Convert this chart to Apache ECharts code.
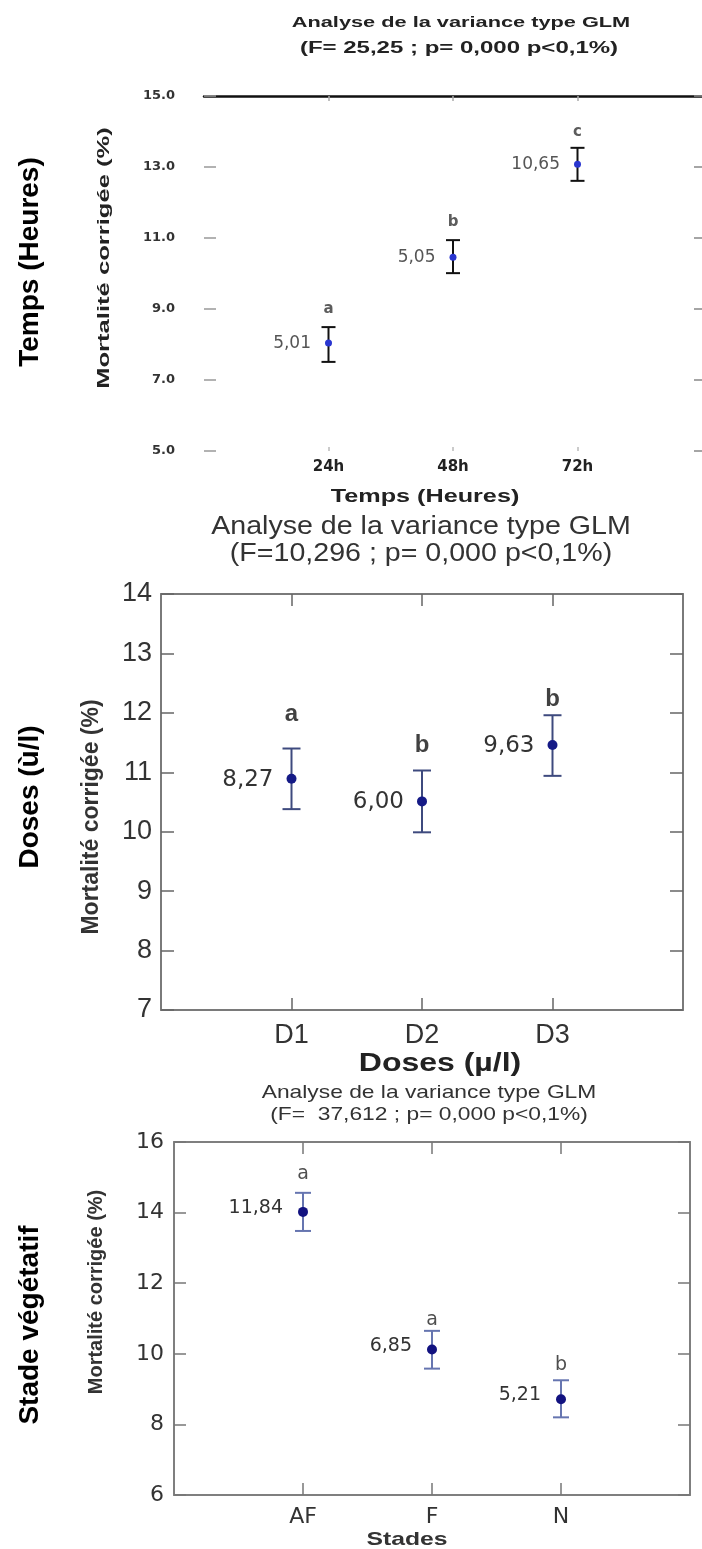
<!DOCTYPE html>
<html><head><meta charset="utf-8">
<script src="https://cdn.jsdelivr.net/npm/echarts@6/dist/echarts.min.js"></script>
<style>html,body{margin:0;padding:0;background:#fff}#c{width:702px;height:1549px}</style>
</head><body><div id="c"></div>
<script>
// ---------- Panel 1 : Temps (Heures) ----------
const cats1 = ['24h', '48h', '72h'];
const mean1 = [8.04, 10.46, 13.08];
const low1 = [7.51, 10.01, 12.61];
const high1 = [8.49, 10.94, 13.54];
const valLabels1 = ['5,01', '5,05', '10,65'];
const letters1 = ['a', 'b', 'c'];
const letterY1 = [9.0, 11.45, 13.99];
const yTicks1 = [5, 7, 9, 11, 13, 15];

// ---------- Panel 2 : Doses ----------
const cats2 = ['D1', 'D2', 'D3'];
const mean2 = [10.89, 10.51, 11.46];
const low2 = [10.38, 9.99, 10.94];
const high2 = [11.40, 11.03, 11.96];
const valLabels2 = ['8,27', '6,00', '9,63'];
const letters2 = ['a', 'b', 'b'];
const letterY2 = [11.97, 11.45, 12.23];

// ---------- Panel 3 : Stades ----------
const cats3 = ['AF', 'F', 'N'];
const mean3 = [14.02, 10.12, 8.71];
const low3 = [13.48, 9.58, 8.20];
const high3 = [14.56, 10.65, 9.25];
const valLabels3 = ['11,84', '6,85', '5,21'];
const letters3 = ['a', 'a', 'b'];
const letterY3 = [15.1, 10.95, 9.68];

const SANS = '"Liberation Sans", Arial, sans-serif';
const DJ = '"DejaVu Sans", sans-serif';

const panels = [
  {
    cats: cats1, mean: mean1, low: low1, high: high1, vl: valLabels1, let: letters1, letY: letterY1,
    grid: {left: 204, top: 96, width: 504, height: 355},
    y: {min: 5, max: 15, customValues: yTicks1, fmt: v => v.toFixed(1), font: {fontSize: 13, fontWeight: 'bold', fontFamily: DJ, color: '#333'}, margin: 29},
    xl: {fontSize: 15, fontWeight: 'bold', fontFamily: DJ, color: '#222', margin: 9},
    lines: {left: false, bottom: false, top: true, right: false, color: '#111', width: 2.5},
    ticks: {left: [12, '#999'], bottom: [4, '#bbb'], top: [5, '#aaa'], right: [8, '#888']},
    err: {color: '#111', lw: 2, cap: 14},
    pt: {color: '#2a36d0', size: 7},
    lab: {fontSize: 17, fontFamily: DJ, color: '#555', distance: 14, offset: [0, 0]},
    letf: {fontSize: 15, fontWeight: 'bold', fontFamily: DJ, color: '#333'}
  },
  {
    cats: cats2, mean: mean2, low: low2, high: high2, vl: valLabels2, let: letters2, letY: letterY2,
    grid: {left: 161, top: 594, width: 522, height: 416},
    y: {min: 7, max: 14, interval: 1, fmt: v => String(v), font: {fontSize: 27, fontFamily: SANS, color: '#333'}, margin: 9},
    xl: {fontSize: 27, fontFamily: SANS, color: '#333', margin: 12},
    lines: {left: true, bottom: true, top: true, right: true, color: '#7a7a7a', width: 2},
    ticks: {left: [13, '#666'], bottom: [12, '#666'], top: [12, '#666'], right: [13, '#666']},
    err: {color: '#3e4a7e', lw: 2, cap: 18},
    pt: {color: '#151a86', size: 10},
    lab: {fontSize: 23, fontFamily: DJ, color: '#333', distance: 13, offset: [0, 1]},
    letf: {fontSize: 24, fontWeight: 'bold', fontFamily: SANS, color: '#111'}
  },
  {
    cats: cats3, mean: mean3, low: low3, high: high3, vl: valLabels3, let: letters3, letY: letterY3,
    grid: {left: 174, top: 1142, width: 516, height: 353},
    y: {min: 6, max: 16, interval: 2, fmt: v => String(v), font: {fontSize: 22, fontFamily: DJ, color: '#333'}, margin: 10},
    xl: {fontSize: 22, fontFamily: DJ, color: '#333', margin: 11},
    lines: {left: true, bottom: true, top: true, right: true, color: '#7f7f7f', width: 2},
    ticks: {left: [12, '#777'], bottom: [12, '#777'], top: [12, '#777'], right: [12, '#777']},
    err: {color: '#6675b0', lw: 2, cap: 16},
    pt: {color: '#121280', size: 10},
    lab: {fontSize: 19, fontFamily: DJ, color: '#333', distance: 15, offset: [0, -4]},
    letf: {fontSize: 19, fontFamily: DJ, color: '#222'}
  }
];

const grids = [], xAxes = [], yAxes = [], series = [];
const xPos = [1, 2, 3];

panels.forEach((p, i) => {
  grids.push(Object.assign({containLabel: false}, p.grid));
  const lineStyle = {color: p.lines.color, width: p.lines.width};
  const mkX = (pos) => ({
    type: 'value', gridIndex: i, min: 0, max: 4, interval: 1, position: pos,
    axisLine: {show: p.lines[pos], lineStyle: lineStyle},
    axisTick: {show: true, inside: true, length: p.ticks[pos][0], customValues: xPos, lineStyle: {color: p.ticks[pos][1], width: 1.5}},
    axisLabel: pos === 'bottom' ? Object.assign({show: true, customValues: xPos, formatter: v => p.cats[v - 1] || ''}, p.xl) : {show: false},
    splitLine: {show: false}
  });
  xAxes.push(mkX('bottom'), mkX('top'));
  const mkY = (pos) => {
    const ax = {
      type: 'value', gridIndex: i, min: p.y.min, max: p.y.max, position: pos,
      axisLine: {show: p.lines[pos], onZero: false, lineStyle: lineStyle},
      axisTick: {show: true, inside: true, length: p.ticks[pos][0], lineStyle: {color: p.ticks[pos][1], width: 1.5}},
      axisLabel: pos === 'left' ? Object.assign({show: true, formatter: p.y.fmt, margin: p.y.margin}, p.y.font) : {show: false},
      splitLine: {show: false}
    };
    if (p.y.interval) ax.interval = p.y.interval;
    if (p.y.customValues) {
      ax.axisTick.customValues = p.y.customValues;
      if (pos === 'left') ax.axisLabel.customValues = p.y.customValues;
    }
    return ax;
  };
  yAxes.push(mkY('left'), mkY('right'));

  const e = p.err;
  series.push({
    type: 'custom', xAxisIndex: 2 * i, yAxisIndex: 2 * i, clip: false,
    encode: {x: 0, y: [1, 2]},
    data: p.low.map((lo, k) => [xPos[k], lo, p.high[k]]),
    renderItem: (params, api) => {
      const x = api.value(0);
      const a = api.coord([x, api.value(1)]);
      const b = api.coord([x, api.value(2)]);
      const h = e.cap / 2;
      const st = {stroke: e.color, lineWidth: e.lw};
      return {type: 'group', children: [
        {type: 'line', shape: {x1: a[0], y1: a[1], x2: b[0], y2: b[1]}, style: st},
        {type: 'line', shape: {x1: a[0] - h, y1: a[1], x2: a[0] + h, y2: a[1]}, style: st},
        {type: 'line', shape: {x1: b[0] - h, y1: b[1], x2: b[0] + h, y2: b[1]}, style: st}
      ]};
    },
    z: 2
  });
  series.push({
    type: 'scatter', xAxisIndex: 2 * i, yAxisIndex: 2 * i,
    data: p.mean.map((m, k) => [xPos[k], m]),
    symbol: 'circle', symbolSize: p.pt.size,
    itemStyle: {color: p.pt.color, opacity: 1},
    label: {
      show: true, position: 'left', distance: p.lab.distance, offset: p.lab.offset,
      formatter: (d) => p.vl[d.dataIndex],
      fontSize: p.lab.fontSize, fontFamily: p.lab.fontFamily, color: p.lab.color
    },
    z: 3
  });
  series.push({
    type: 'scatter', xAxisIndex: 2 * i, yAxisIndex: 2 * i,
    data: p.letY.map((v, k) => [xPos[k], v]),
    symbol: 'circle', symbolSize: 1,
    itemStyle: {color: 'rgba(0,0,0,0)'},
    label: Object.assign({show: true, position: 'inside', formatter: (d) => p.let[d.dataIndex]}, p.letf),
    z: 3
  });
});

function txt(text, x, y, font, opts) {
  opts = opts || {};
  return {
    type: 'text', x: x, y: y, rotation: opts.rot || 0, scaleX: opts.sx || 1, scaleY: opts.sy || 1,
    style: Object.assign({text: text, align: 'center', verticalAlign: 'middle', fill: opts.fill || '#333'}, font),
    z: 10
  };
}
const R = Math.PI / 2;
const graphics = [
  // panel 1 texts
  txt('Analyse de la variance type GLM', 461, 23, {fontSize: 15, fontWeight: 'bold', fontFamily: SANS}, {sx: 1.45, fill: '#222'}),
  txt('(F= 25,25 ; p= 0,000 p<0,1%)', 459, 49, {fontSize: 16, fontWeight: 'bold', fontFamily: SANS}, {sx: 1.5, fill: '#222'}),
  txt('Mortalité corrigée (%)', 105, 258, {fontSize: 16, fontWeight: 'bold', fontFamily: SANS}, {rot: R, sx: 1.6, fill: '#222'}),
  txt('Temps (Heures)', 425, 497, {fontSize: 18, fontWeight: 'bold', fontFamily: SANS}, {sx: 1.4, fill: '#222'}),
  // panel 2 texts
  txt('Analyse de la variance type GLM', 421, 527, {fontSize: 26, fontFamily: SANS}, {sx: 1.1}),
  txt('(F=10,296 ; p= 0,000 p<0,1%)', 421, 554, {fontSize: 26, fontFamily: SANS}, {sx: 1.1}),
  txt('Mortalité corrigée (%)', 92, 817, {fontSize: 23, fontWeight: 'bold', fontFamily: SANS}, {rot: R}),
  txt('Doses (µ/l)', 440, 1064, {fontSize: 25, fontWeight: 'bold', fontFamily: SANS}, {sx: 1.28, fill: '#222'}),
  // panel 3 texts
  txt('Analyse de la variance type GLM', 429, 1093, {fontSize: 19, fontFamily: SANS}, {sx: 1.2}),
  txt('(F=  37,612 ; p= 0,000 p<0,1%)', 429, 1115, {fontSize: 19, fontFamily: SANS}, {sx: 1.2}),
  txt('Mortalité corrigée (%)', 96, 1292, {fontSize: 20, fontWeight: 'bold', fontFamily: SANS}, {rot: R}),
  txt('Stades', 407, 1540, {fontSize: 19, fontWeight: 'bold', fontFamily: SANS}, {sx: 1.3}),
  // outer labels
  txt('Temps (Heures)', 30, 262, {fontSize: 28, fontWeight: 'bold', fontFamily: SANS}, {rot: R, fill: '#000'}),
  txt('Doses (ù/l)', 30, 797, {fontSize: 28, fontWeight: 'bold', fontFamily: SANS}, {rot: R, fill: '#000'}),
  txt('Stade végétatif', 30, 1325, {fontSize: 28, fontWeight: 'bold', fontFamily: SANS}, {rot: R, fill: '#000'})
];

const chart = echarts.init(document.getElementById('c'), null, {renderer: 'canvas', width: 702, height: 1549});
chart.setOption({
  animation: false,
  backgroundColor: '#fff',
  grid: grids, xAxis: xAxes, yAxis: yAxes, series: series,
  graphic: graphics
});
</script></body></html>
